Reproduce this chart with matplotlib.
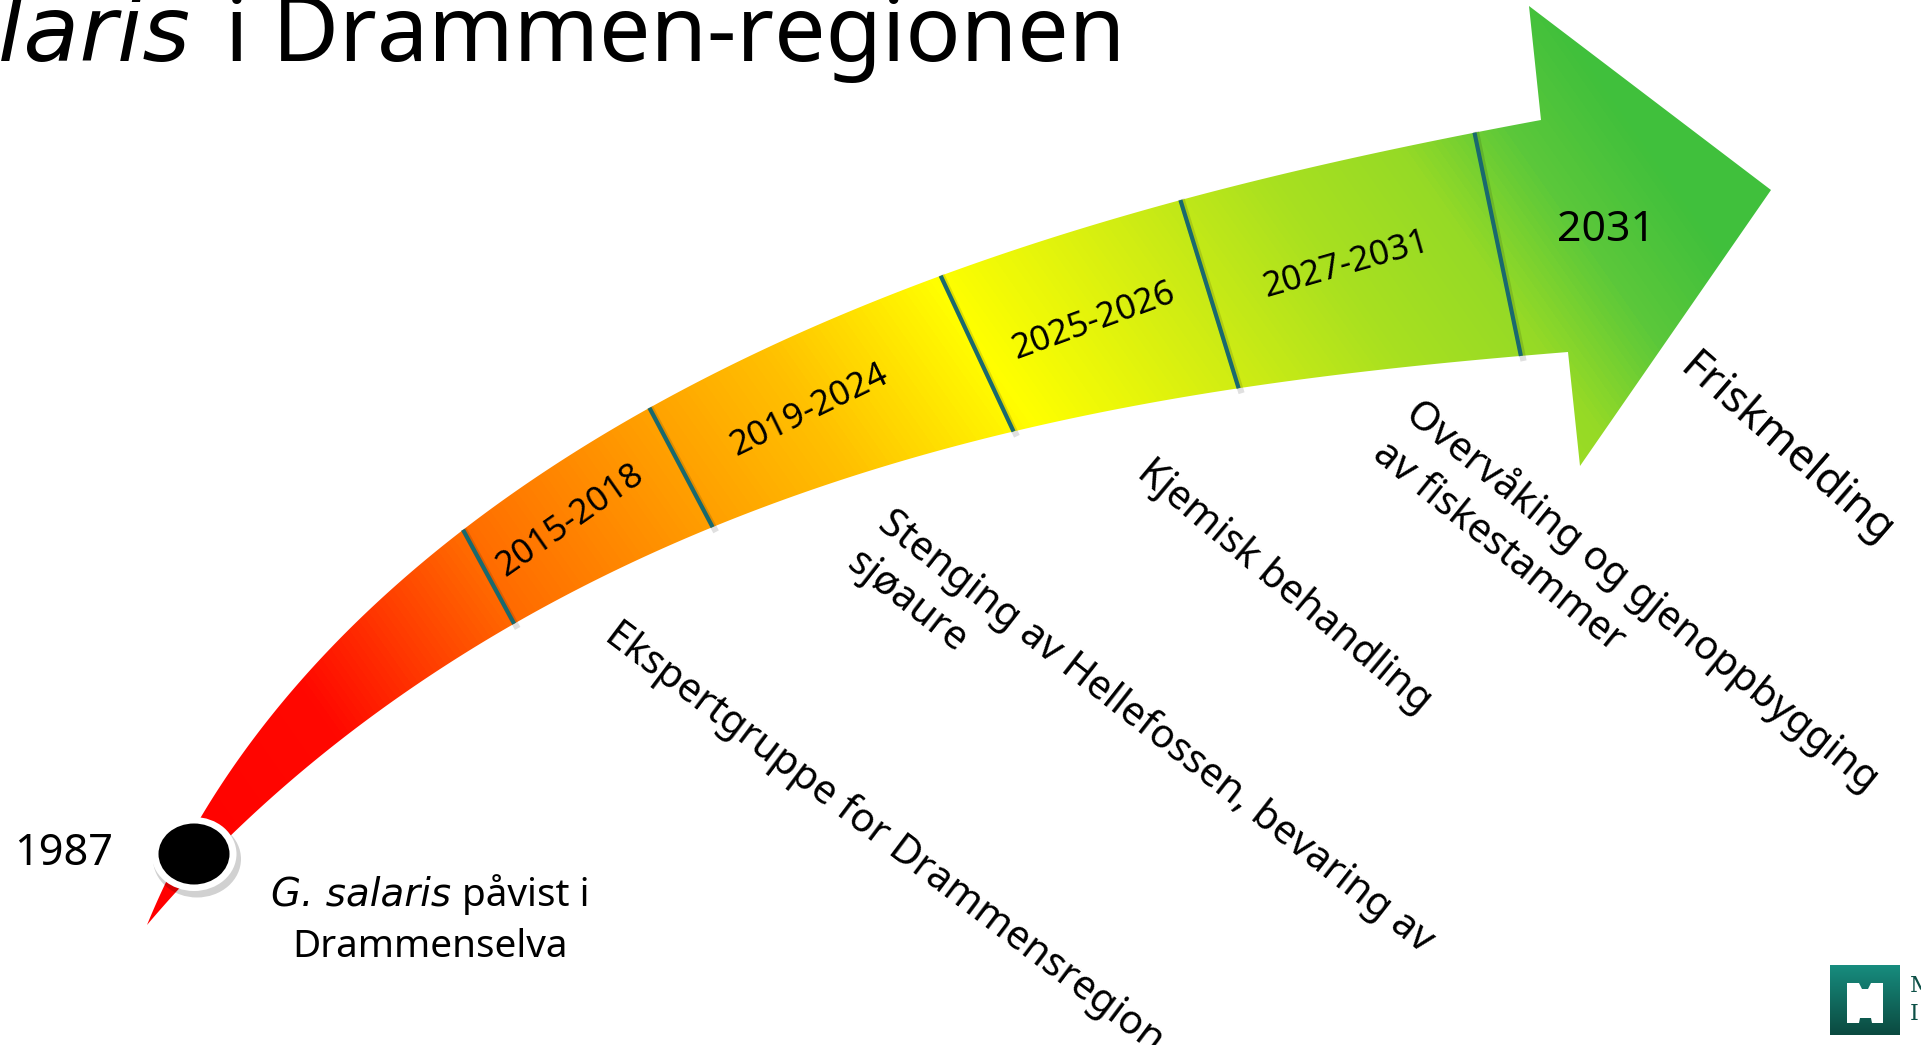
import numpy as np
import matplotlib
matplotlib.use('Agg')
import matplotlib.pyplot as plt
from matplotlib.path import Path
from matplotlib.patches import PathPatch, Ellipse, Polygon
from matplotlib.colors import LinearSegmentedColormap

W, H = 1921, 1045

# texts
title_italic = 'G. salaris'
title_rest = 'i Drammen-regionen'
start_year = '1987'
start_italic = 'G. salaris'
start_rest = 'påvist i'
start_line2 = 'Drammenselva'
period_labels = ['2015-2018', '2019-2024', '2025-2026', '2027-2031', '2031']
events = ['Ekspertgruppe for Drammensregion',
          'Stenging av Hellefossen, bevaring av\nsjøaure',
          'Kjemisk behandling',
          'Overvåking og gjenoppbygging\nav fiskestammer',
          'Friskmelding']

# layout, pixel coords with y going down
upper_tail = [(147, 925), (163, 889), (203, 818), (300, 680), (383, 593)]
lower_tail = [(147, 925), (177, 890), (230, 833), (317, 763), (417, 687)]
div_top = [(463, 533), (649, 408), (941, 276), (1180, 200), (1476, 132)]
div_bot = [(512, 619), (713, 529), (1012, 432), (1240, 388), (1519, 355)]
head = [(1541, 120), (1529, 6), (1771, 190), (1580, 466), (1568, 352)]

label_xy = [(570, 521), (809, 410), (1094, 321), (1346, 265), (1606, 230)]
label_rot = [35, 26, 20, 16, 0]
event_xy = [(622, 614), (895, 503), (1155, 452), (1424, 392), (1700, 346)]
event_rot = [-37, -38, -40, -39, -41]
event_scale = [1, 1, 1, 1, 1.1]

# gradient stops along t = x - 0.7*y
grad_pos = [-500, -180, 80, 350, 520, 740, 950, 1150, 1300, 1420, 1550]
grad_col = ['#FF0000', '#FF0800', '#FF6A00', '#FFA000', '#FFC000', '#FFFF00',
            '#D4EE12', '#A8E020', '#96DA26', '#5CC83A', '#40C03C']

base_font = 'Noto Sans'
ital_font = 'DejaVu Sans'
plt.rcParams['font.family'] = base_font

fig = plt.figure(figsize=(W / 100, H / 100), dpi=100)
ax = fig.add_axes([0, 0, 1, 1])
ax.axis('off')
r = fig.canvas.get_renderer()


def fit_curve(pts, deg=4, n=400):
    p = np.array(pts, float)
    s = np.r_[0, np.cumsum(np.hypot(*np.diff(p, axis=0).T))]
    s /= s[-1]
    w = np.ones(len(p))
    w[0] = w[-1] = 20
    cx = np.polyfit(s, p[:, 0], deg, w=w)
    cy = np.polyfit(s, p[:, 1], deg, w=w)
    ss = np.linspace(0, 1, n)
    return np.c_[np.polyval(cx, ss), np.polyval(cy, ss)]


def snap(curve, q):
    d = np.hypot(curve[:, 0] - q[0], curve[:, 1] - q[1])
    return curve[np.argmin(d)]


upper = fit_curve(upper_tail + div_top + [head[0]])
lower = fit_curve(lower_tail + div_bot + [head[-1]])
outline = np.vstack([upper, np.array(head[1:4], float), lower[::-1]])
arrow = PathPatch(Path(outline, closed=True), facecolor='none', edgecolor='none')
ax.add_patch(arrow)

# gradient fill clipped to arrow
ys, xs = np.mgrid[0:H, 0:W]
T = xs - 0.7 * ys
lo, hi = grad_pos[0], grad_pos[-1]
cmap = LinearSegmentedColormap.from_list('g', [((p - lo) / (hi - lo), c) for p, c in zip(grad_pos, grad_col)])
img = ax.imshow(cmap(np.clip((T - lo) / (hi - lo), 0, 1)), extent=(0, W, H, 0), origin='upper', zorder=1)
img.set_clip_path(arrow)

# dividers
for qt, qb in zip(div_top, div_bot):
    (x0, y0), (x1, y1) = snap(upper, qt), snap(lower, qb)
    ax.plot([x0 + 2, x1 + 2], [y0 + 2, y1 + 2], color='#000000', alpha=0.12, lw=4.5, zorder=2)
    ax.plot([x0, x1], [y0, y1], color='#19696E', lw=3, zorder=3, solid_capstyle='butt')


def fit(text, target, **kw):
    t = ax.text(0, 0, text, fontsize=50, **kw)
    w = t.get_window_extent(r).width
    t.remove()
    return 50 * target / w


def runs_line(x, y, runs, size, align, gap_em=0.28):
    parts = []
    for s, it in runs:
        parts.append(ax.text(0, y, s, fontsize=size, va='baseline', ha='left',
                             family=ital_font if it else base_font,
                             style='italic' if it else 'normal', zorder=5))
    widths = [p.get_window_extent(r).width for p in parts]
    gap = size * 100 / 72 * gap_em
    total = sum(widths) + gap * (len(parts) - 1)
    x0 = x - total * {'left': 0, 'center': 0.5, 'right': 1}[align]
    for p, w in zip(parts, widths):
        p.set_x(x0)
        x0 += w + gap


# title
ts = fit(title_rest, 901)
runs_line(1125, 61, [(title_italic, True), (title_rest, False)], ts, 'right', gap_em=0.38)

# period labels
ps = fit(period_labels[0], 171)
bs = fit(period_labels[-1], 98)
for i, lab in enumerate(period_labels):
    ax.text(label_xy[i][0], label_xy[i][1], lab, fontsize=ps if i < 4 else bs,
            rotation=label_rot[i], rotation_mode='anchor', ha='center', va='center', zorder=5)

# events
es = fit(events[0], 689)
for (x, y), rot, k, ev in zip(event_xy, event_rot, event_scale, events):
    ax.text(x, y, ev, fontsize=es * k, rotation=rot, rotation_mode='anchor',
            ha='left', va='top', linespacing=1.35, zorder=5)

# start point
ax.add_patch(Ellipse((197, 859), 88, 77, color='#000000', alpha=0.18, lw=0, zorder=6))
ax.add_patch(Ellipse((194, 854), 85, 74, color='white', lw=0, zorder=7))
ax.add_patch(Ellipse((194, 854), 71, 61, color='black', lw=0, zorder=8))
ax.text(64, 854, start_year, fontsize=fit(start_year, 99), ha='center', va='center')
ss = fit(start_line2, 276)
runs_line(430, 906, [(start_italic, True), (start_rest, False)], ss, 'center')
ax.text(430, 957, start_line2, fontsize=ss, ha='center', va='baseline')

# logo
top_c, bot_c = np.array([23, 140, 126]) / 255, np.array([11, 74, 64]) / 255
logo = top_c + np.linspace(0, 1, 50)[:, None, None] * (bot_c - top_c)
logo = np.repeat(logo, 2, axis=1)
ax.imshow(logo, extent=(1830, 1900, 1035, 965), origin='upper', zorder=4)
ax.add_patch(Polygon([(1847, 983), (1859, 983), (1862, 989), (1868, 989), (1871, 983), (1883, 983),
                      (1883, 1023), (1872, 1023), (1871, 1018), (1860, 1018), (1859, 1023),
                      (1847, 1023)], color='white', lw=0, zorder=5))
ax.text(1910, 986, 'M', family='DejaVu Serif', fontsize=16, color='#0D5047', va='center', ha='left')
ax.text(1910, 1014, 'I', family='DejaVu Serif', fontsize=16, color='#0D5047', va='center', ha='left')

ax.set_xlim(0, W)
ax.set_ylim(H, 0)
ax.set_aspect('auto')
fig.savefig('out.png', dpi=100)
